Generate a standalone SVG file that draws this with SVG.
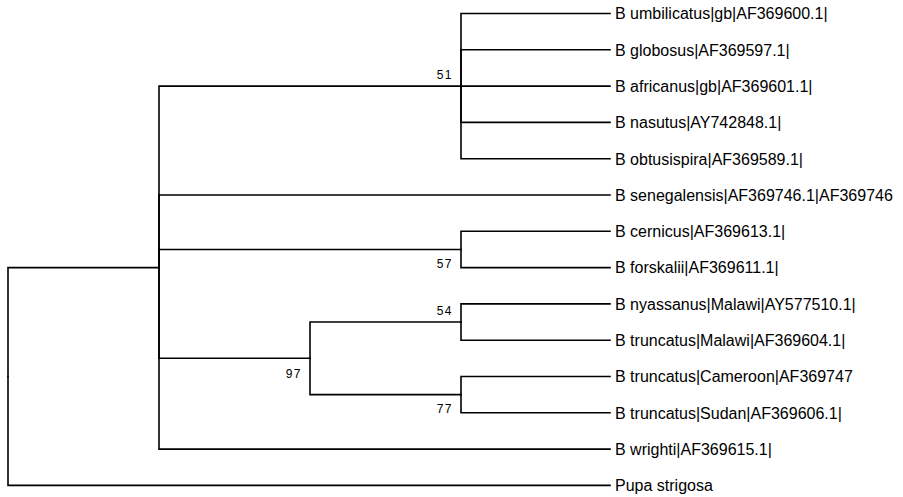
<svg xmlns="http://www.w3.org/2000/svg" width="903" height="497" viewBox="0 0 903 497">
<style>
.e{fill:none;stroke:#000;stroke-width:1.6;stroke-linecap:square}
.l{font-family:"Liberation Sans",Arial,sans-serif;font-size:16px;fill:#000}
.b{font-family:"Liberation Sans",Arial,sans-serif;font-size:12px;letter-spacing:1.5px;fill:#000;text-anchor:end}
</style>
<rect width="903" height="497" fill="#fff"/>
<g id="connectors">
<path class="e" d="M8,376.5 V267.6 H159"/>
<path class="e" d="M8,376.5 V485.4 H610"/>
<path class="e" d="M159,267.6 V86.1 H461"/>
<path class="e" d="M159,267.6 V195 H610"/>
<path class="e" d="M159,267.6 V249.45 H461"/>
<path class="e" d="M159,267.6 V358.3 H310"/>
<path class="e" d="M159,267.6 V449.1 H610"/>
<path class="e" d="M461,86.1 V13.5 H610"/>
<path class="e" d="M461,86.1 V49.8 H610"/>
<path class="e" d="M461,86.1 H610"/>
<path class="e" d="M461,86.1 V122.4 H610"/>
<path class="e" d="M461,86.1 V158.7 H610"/>
<path class="e" d="M461,249.45 V231.3 H610"/>
<path class="e" d="M461,249.45 V267.6 H610"/>
<path class="e" d="M310,358.3 V322 H461"/>
<path class="e" d="M310,358.3 V394.65 H461"/>
<path class="e" d="M461,322 V303.9 H610"/>
<path class="e" d="M461,322 V340.2 H610"/>
<path class="e" d="M461,394.65 V376.5 H610"/>
<path class="e" d="M461,394.65 V412.8 H610"/>
</g>
<g id="node-root"/>
<g id="node-ingroup"/>
<g id="node-51"><text class="b" x="453" y="79">51</text></g>
<g id="node-57"><text class="b" x="453" y="268">57</text></g>
<g id="node-97"><text class="b" x="302" y="378">97</text></g>
<g id="node-54"><text class="b" x="453" y="315">54</text></g>
<g id="node-77"><text class="b" x="453" y="413">77</text></g>
<g id="leaf-umbilicatus"><text class="l" x="615" y="19.3">B umbilicatus|gb|AF369600.1|</text></g>
<g id="leaf-globosus"><text class="l" x="615" y="55.6">B globosus|AF369597.1|</text></g>
<g id="leaf-africanus"><text class="l" x="615" y="91.9">B africanus|gb|AF369601.1|</text></g>
<g id="leaf-nasutus"><text class="l" x="615" y="128.2">B nasutus|AY742848.1|</text></g>
<g id="leaf-obtusispira"><text class="l" x="615" y="164.5">B obtusispira|AF369589.1|</text></g>
<g id="leaf-senegalensis"><text class="l" x="615" y="200.8">B senegalensis|AF369746.1|AF369746</text></g>
<g id="leaf-cernicus"><text class="l" x="615" y="237.1">B cernicus|AF369613.1|</text></g>
<g id="leaf-forskalii"><text class="l" x="615" y="273.4">B forskalii|AF369611.1|</text></g>
<g id="leaf-nyassanus"><text class="l" x="615" y="309.7">B nyassanus|Malawi|AY577510.1|</text></g>
<g id="leaf-truncatus-malawi"><text class="l" x="615" y="346">B truncatus|Malawi|AF369604.1|</text></g>
<g id="leaf-truncatus-cameroon"><text class="l" x="615" y="382.3">B truncatus|Cameroon|AF369747</text></g>
<g id="leaf-truncatus-sudan"><text class="l" x="615" y="418.6">B truncatus|Sudan|AF369606.1|</text></g>
<g id="leaf-wrighti"><text class="l" x="615" y="454.9">B wrighti|AF369615.1|</text></g>
<g id="leaf-pupa"><text class="l" x="615" y="491.2">Pupa strigosa</text></g>
</svg>
